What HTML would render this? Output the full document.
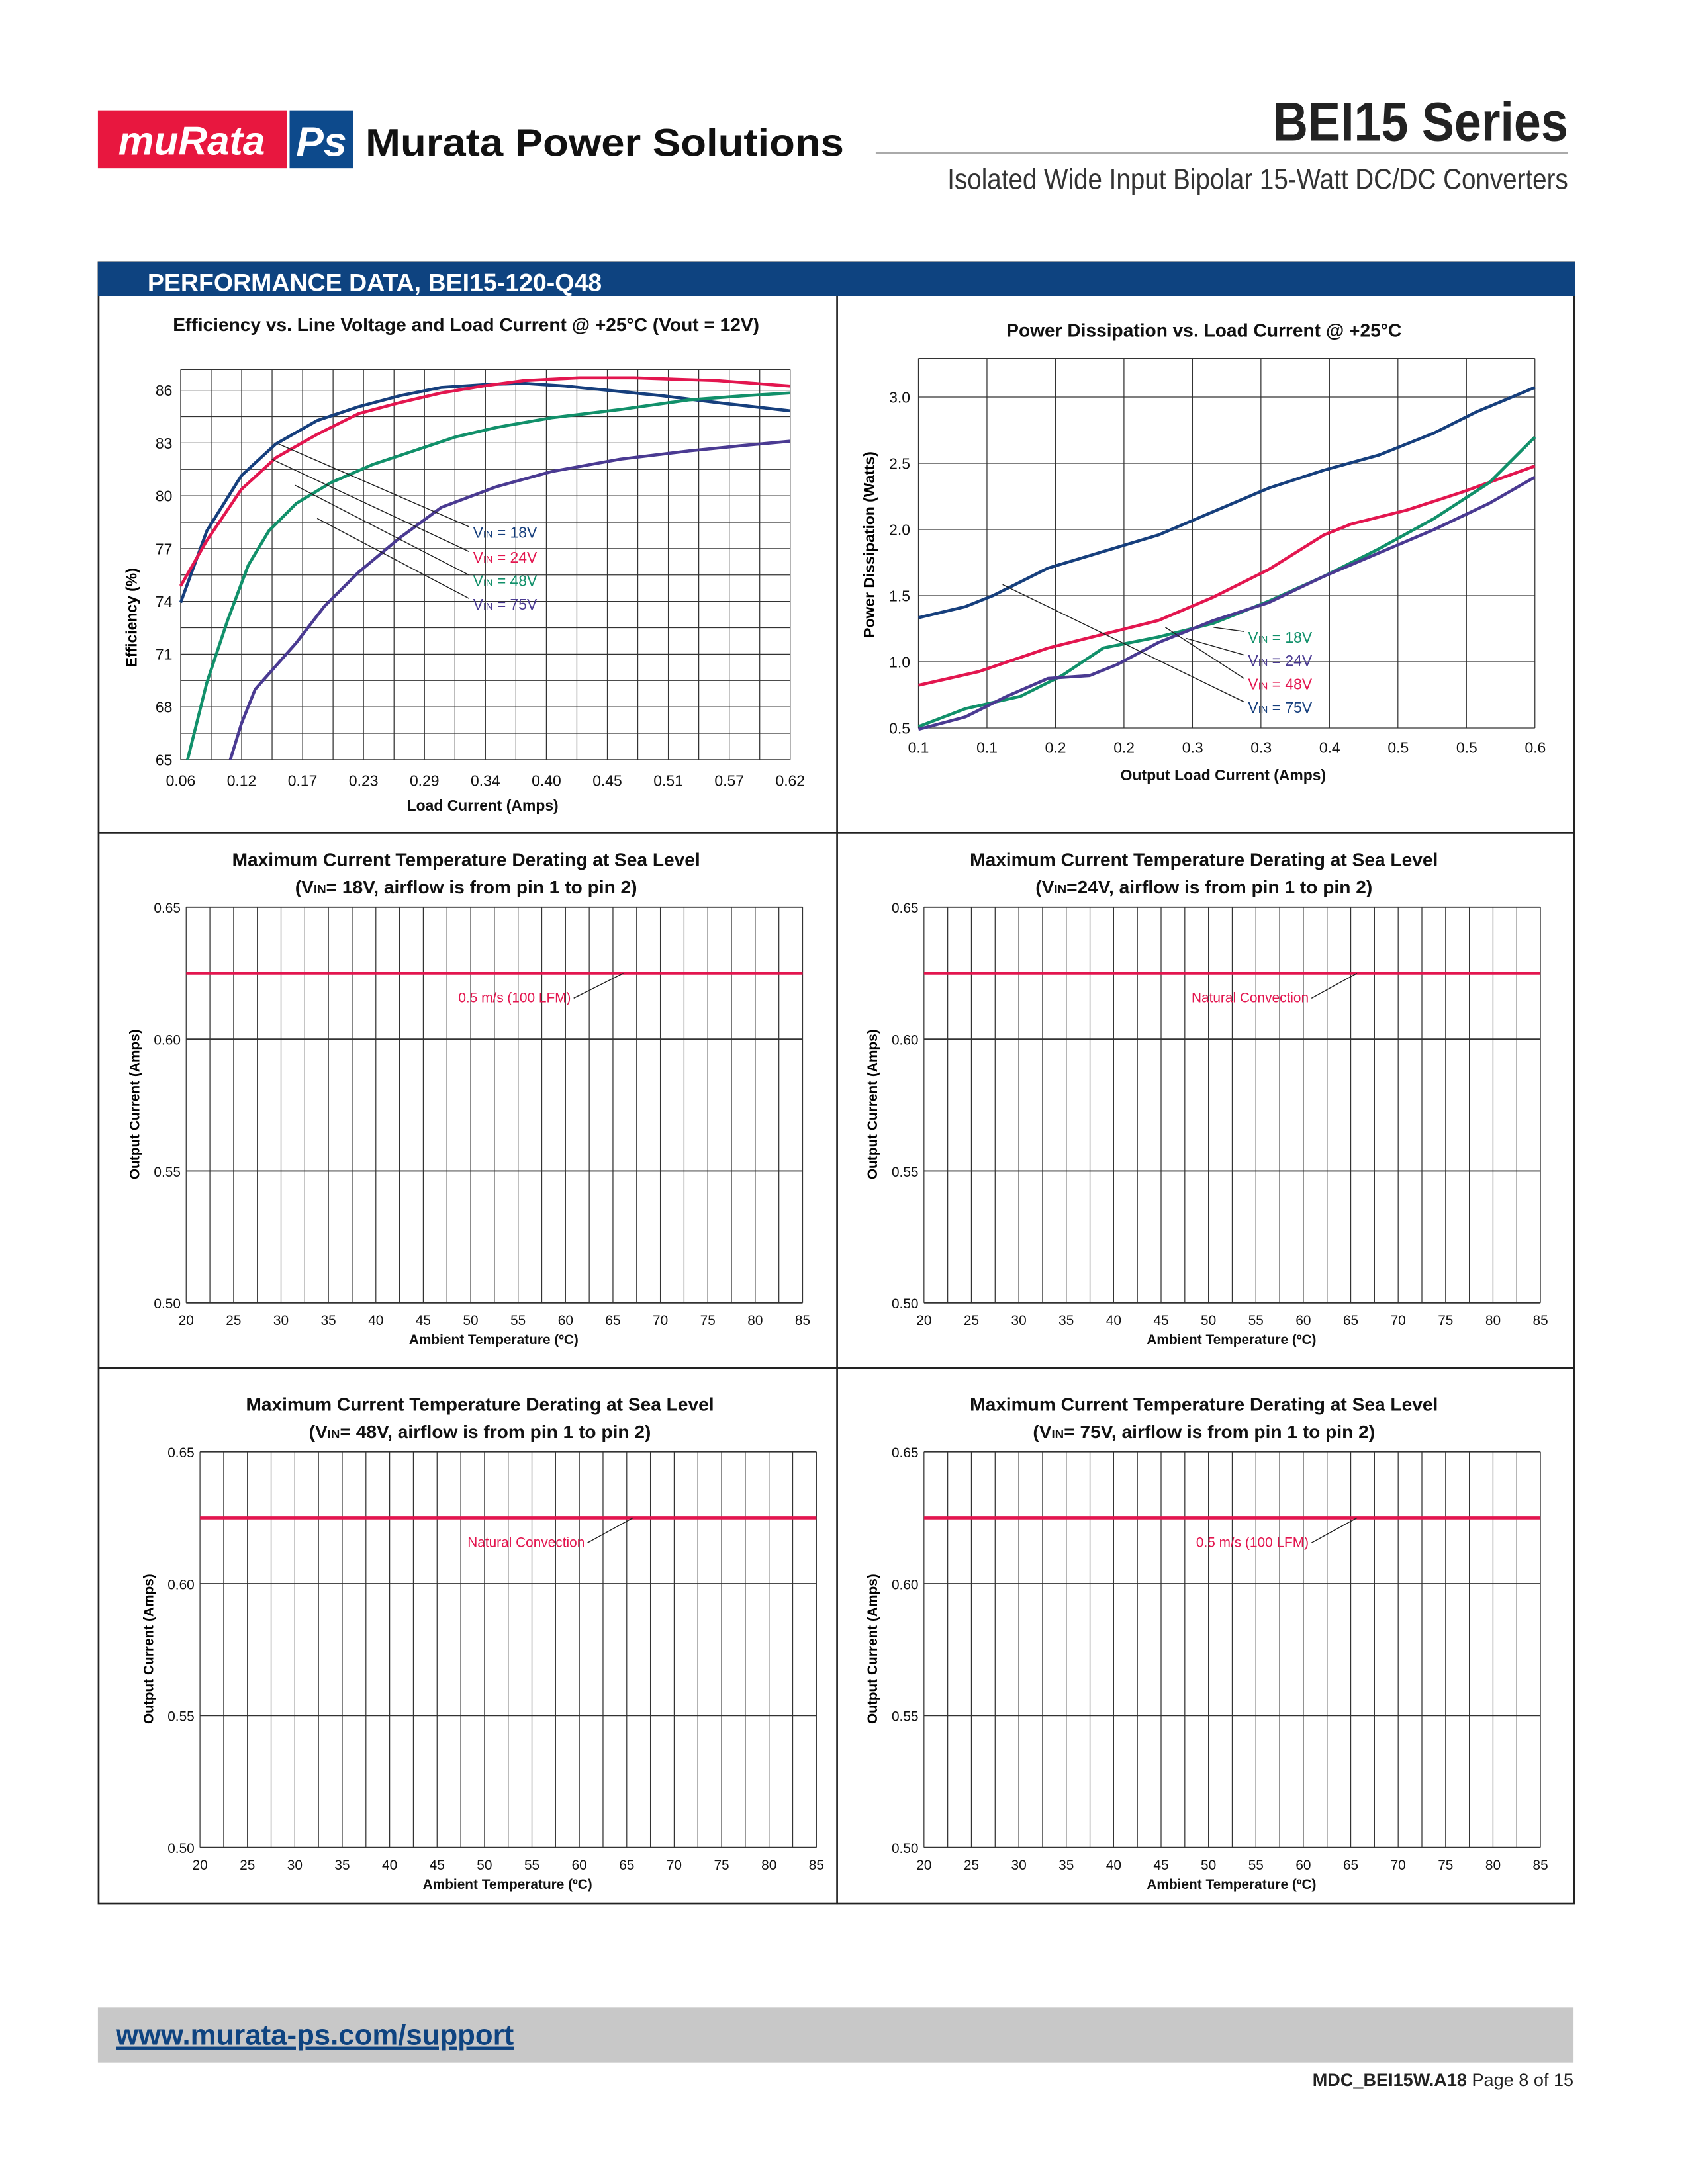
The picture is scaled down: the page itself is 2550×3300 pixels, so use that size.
<!DOCTYPE html>
<html><head><meta charset="utf-8"><style>
html,body{margin:0;padding:0;background:#fff;}
svg{display:block;}
text{font-family:"Liberation Sans",sans-serif;}
</style></head><body>
<svg id="s" xmlns="http://www.w3.org/2000/svg" width="2550" height="3300" viewBox="0 0 1224 1584">
<rect width="1224" height="1584" fill="#fff"/>
<!-- header -->
<rect x="71" y="80" width="137" height="42" fill="#e8173f"/>
<text x="139" y="112" font-family="Liberation Serif" font-style="italic" font-weight="bold" font-size="29" fill="#fff" text-anchor="middle">muRata</text>
<rect x="210" y="80" width="46" height="42" fill="#0d4a8c"/>
<text x="233" y="113" font-family="Liberation Serif" font-style="italic" font-weight="bold" font-size="30" fill="#fff" text-anchor="middle">Ps</text>
<text x="265" y="113" font-weight="bold" font-size="28" fill="#111" textLength="347" lengthAdjust="spacingAndGlyphs">Murata Power Solutions</text>
<text x="1137" y="102" font-weight="bold" font-size="40" fill="#222" text-anchor="end" textLength="214" lengthAdjust="spacingAndGlyphs">BEI15 Series</text>
<line x1="635" y1="111" x2="1137" y2="111" stroke="#aaa" stroke-width="1.5"/>
<text x="1137" y="137" font-size="21" fill="#333" text-anchor="end" textLength="450" lengthAdjust="spacingAndGlyphs">Isolated Wide Input Bipolar 15-Watt DC/DC Converters</text>
<!-- main box -->
<rect x="71.5" y="190.5" width="1070" height="1190" fill="none" stroke="#222" stroke-width="1.3"/>
<rect x="71" y="190" width="1071" height="25" fill="#0e4380"/>
<text x="107" y="211" font-weight="bold" font-size="18" fill="#fff">PERFORMANCE DATA, BEI15-120-Q48</text>
<line x1="607" y1="215" x2="607" y2="1381" stroke="#222" stroke-width="1.3"/>
<line x1="71" y1="604" x2="1142" y2="604" stroke="#222" stroke-width="1.3"/>
<line x1="71" y1="992" x2="1142" y2="992" stroke="#222" stroke-width="1.3"/>
<!-- footer -->
<rect x="71" y="1456" width="1070" height="40" fill="#c8c8c8"/>
<text x="84" y="1483" font-weight="bold" font-size="21" fill="#0e4380" text-decoration="underline">www.murata-ps.com/support</text>
<text x="1141" y="1513" font-size="13" fill="#222" text-anchor="end"><tspan font-weight="bold">MDC_BEI15W.A18</tspan>  Page 8 of 15</text>
<g id="g"></g>
</svg>
<script>
var g=document.getElementById('g'),h='';
function L(x1,y1,x2,y2,c,w){h+='<line x1="'+x1+'" y1="'+y1+'" x2="'+x2+'" y2="'+y2+'" stroke="'+c+'" stroke-width="'+w+'"/>';}
function T(x,y,s,sz,a,c,b,ex){h+='<text x="'+x+'" y="'+y+'" font-size="'+sz+'" text-anchor="'+(a||'start')+'" fill="'+(c||'#111')+'"'+(b?' font-weight="bold"':'')+(ex||'')+'>'+s+'</text>';}
function P(pts,c){h+='<polyline points="'+pts.map(p=>p.join(',')).join(' ')+'" fill="none" stroke="'+c+'" stroke-width="2.2" stroke-linejoin="round"/>';}
// chart1
var x0=131,x1=573,y0=268,y1=551;
for(var i=0;i<=20;i++){var x=x0+i*(x1-x0)/20;L(x,y0,x,y1,'#333',0.6);}
for(var i=0;i<=14;i++){var y=y1-i*1.5*12.76;L(x0,y,x1,y,'#333',0.6);}
L(x0,y0,x1,y0,'#333',0.6);
var xl=['0.06','0.12','0.17','0.23','0.29','0.34','0.40','0.45','0.51','0.57','0.62'];
xl.forEach((s,i)=>T(x0+i*44.2,570,s,11,'middle'));
[65,68,71,74,77,80,83,86].forEach(v=>T(125,y1-(v-65)*12.76+4,v,11,'end'));
T(338,240,'Efficiency vs. Line Voltage and Load Current @ +25°C (Vout = 12V)',13.5,'middle','#111',1);
T(350,588,'Load Current (Amps)',11,'middle','#111',1);
h+='<text transform="translate(99,448) rotate(-90)" font-size="11" font-weight="bold" text-anchor="middle">Efficiency  (%)</text>';
P([[131,437],[150,385],[175,345],[200,322],[230,305],[260,295],[290,287],[320,281],[350,279],[380,278],[410,280],[440,283],[480,287],[520,292],[573,298]],'#163f7d');
P([[131,425],[150,392],[175,355],[200,332],[230,315],[260,300],[290,292],[320,285],[350,280],[380,276],[420,274],[460,274],[520,276],[573,280]],'#e3164f');
P([[136,551],[150,495],[165,450],[180,410],[195,385],[215,365],[240,350],[270,337],[300,327],[330,317],[360,310],[400,303],[450,297],[500,290],[540,287],[573,285]],'#11906a');
P([[167,551],[175,525],[185,500],[200,483],[215,466],[235,440],[260,415],[290,390],[320,368],[360,353],[400,342],[450,333],[500,327],[540,323],[573,320]],'#4a3a92');
[[202,322,386,'#163f7d','18V'],[197,333,404,'#e3164f','24V'],[214,352,421,'#11906a','48V'],[230,376,438,'#4a3a92','75V']].forEach(a=>{L(a[0],a[1],340,a[2]-4,'#222',0.7);T(343,a[2]+4,'V<tspan font-size="7">IN</tspan> = '+a[4],11,'start',a[3]);});
// chart2
x0=666;x1=1113;y0=260;y1=528;
for(var i=0;i<=9;i++){var x=x0+i*(x1-x0)/9;L(x,y0,x,y1,'#333',0.6);}
for(var i=0;i<=5;i++){var y=y1-i*48;L(x0,y,x1,y,'#333',0.6);}
L(x0,y0,x1,y0,'#333',0.6);
['0.1','0.1','0.2','0.2','0.3','0.3','0.4','0.5','0.5','0.6','0.6'].slice(0,10).forEach((s,i)=>T(x0+i*49.7,546,s,11,'middle'));
['0.5','1.0','1.5','2.0','2.5','3.0'].forEach((s,i)=>T(660,y1-i*48+4,s,11,'end'));
T(873,244,'Power Dissipation vs. Load Current @ +25°C',13.5,'middle','#111',1);
T(887,566,'Output Load Current (Amps)',11,'middle','#111',1);
h+='<text transform="translate(634,395) rotate(-90)" font-size="11" font-weight="bold" text-anchor="middle">Power Dissipation (Watts)</text>';
P([[666,448],[700,440],[720,432],[760,412],[800,400],[840,388],[880,371],[920,354],[960,341],[1000,330],[1040,314],[1070,299],[1113,281]],'#163f7d');
P([[666,497],[710,487],[760,470],[800,460],[840,450],[880,433],[920,413],[960,388],[980,380],[1020,370],[1060,357],[1113,338]],'#e3164f');
P([[666,527],[700,514],[740,505],[770,490],[800,470],[840,462],[880,452],[920,436],[960,418],[1000,398],[1040,376],[1080,350],[1113,317]],'#11906a');
P([[666,529],[700,520],[730,505],[760,492],[790,490],[810,482],[840,466],[880,450],[920,437],[960,418],[1000,401],[1040,384],[1080,365],[1113,346]],'#4a3a92');
[[880,455,462,'#11906a','18V'],[860,463,479,'#4a3a92','24V'],[845,455,496,'#e3164f','48V'],[727,424,513,'#163f7d','75V']].forEach(a=>{L(a[0],a[1],902,a[2]-4,'#222',0.7);T(905,a[2]+4,'V<tspan font-size="7">IN</tspan> = '+a[4],11,'start',a[3]);});
// derating charts
function D(x0,y0,cx,t1,t2,lab,lx,ly,ax,yl){var x1=x0+447,y1=y0+287;
 for(var i=0;i<=26;i++){var x=x0+i*447/26;L(x,y0,x,y1,'#333',0.6);}
 for(var i=0;i<=3;i++){var y=y0+i*287/3;L(x0,y,x1,y,'#333',0.9);}
 for(var i=0;i<14;i++)T(x0+i*447/13,y1+16,20+5*i,10,'middle');
 ['0.65','0.60','0.55','0.50'].forEach((s,i)=>T(x0-4,y0+i*287/3+4,s,10,'end'));
 T(cx,y0-30,t1,13.5,'middle','#111',1);T(cx,y0-10,t2,13.5,'middle','#111',1);
 T(x0+223,y1+30,'Ambient Temperature (ºC)',10,'middle','#111',1);
 h+='<text transform="translate('+yl+','+(y0+143)+') rotate(-90)" font-size="10" font-weight="bold" text-anchor="middle">Output Current (Amps)</text>';
 var ly0=y0+287/6;L(x0,ly0,x1,ly0,'#e3164f',2.2);
 T(lx,ly,lab,10,'end','#e3164f');L(lx+2,ly-3,ax,ly0,'#222',0.7);}
D(135,658,338,'Maximum Current Temperature Derating at Sea Level','(V<tspan font-size="9">IN</tspan>= 18V, airflow is from pin 1 to pin 2)','0.5 m/s (100 LFM)',414,727,452,101);
D(670,658,873,'Maximum Current Temperature Derating at Sea Level','(V<tspan font-size="9">IN</tspan>=24V, airflow is from pin 1 to pin 2)','Natural Convection',949,727,984,636);
D(145,1053,348,'Maximum Current Temperature Derating at Sea Level','(V<tspan font-size="9">IN</tspan>= 48V, airflow is from pin 1 to pin 2)','Natural Convection',424,1122,459,111);
D(670,1053,873,'Maximum Current Temperature Derating at Sea Level','(V<tspan font-size="9">IN</tspan>= 75V, airflow is from pin 1 to pin 2)','0.5 m/s (100 LFM)',949,1122,984,636);
g.innerHTML=h;
</script>
</body></html>
